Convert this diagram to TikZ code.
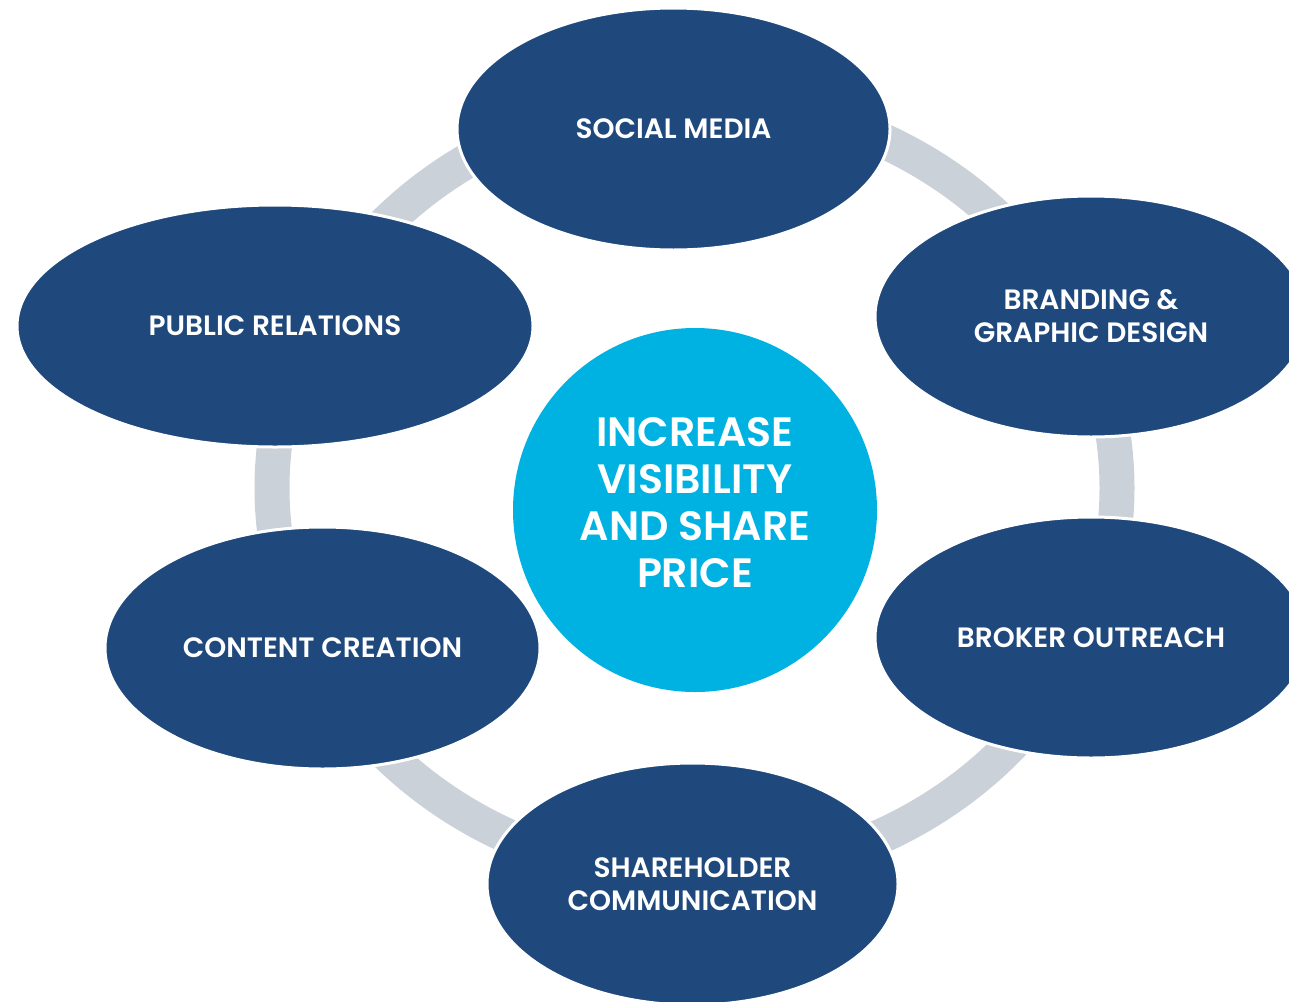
\documentclass[tikz,border=0pt]{standalone}
\usepackage{fontspec}
\setmainfont{Poppins}[BoldFont={Poppins SemiBold}]
\usetikzlibrary{shapes.geometric}
\definecolor{navy}{HTML}{1F497D}
\definecolor{sky}{HTML}{00B2E2}
\definecolor{ringgrey}{HTML}{CBD1D8}
\tikzset{
  bubble/.style={ellipse, fill=navy, draw=white, line width=1.5pt, inner sep=0pt,
    text=white, align=center, font=\bfseries\fontsize{14}{16.5}\selectfont},
  hub/.style={circle, fill=sky, inner sep=0pt, minimum size=182pt},
  hubtext/.style={text=white, align=center, font=\bfseries\fontsize{20.5}{23.5}\selectfont},
}
\begin{document}
\begin{tikzpicture}[x=0.5pt,y=-0.5pt]
\clip (0,0) rectangle (1289,1001);
\draw[ringgrey, line width=17.5pt] (694.5,488) ellipse [x radius=211.25pt, y radius=194pt];
\node[bubble, minimum width=216.5pt, minimum height=121pt] (social) at (673.5,129) {SOCIAL MEDIA};
\node[bubble, minimum width=216pt, minimum height=120.5pt] (brand) at (1091,316.5) {BRANDING \&\\GRAPHIC DESIGN};
\node[bubble, minimum width=216pt, minimum height=120.5pt] (broker) at (1091,637.5) {BROKER OUTREACH};
\node[bubble, minimum width=205.5pt, minimum height=121pt] (share) at (692.5,884) {SHAREHOLDER\\COMMUNICATION};
\node[bubble, minimum width=217.5pt, minimum height=121pt] (content) at (322.5,648) {CONTENT CREATION};
\node[bubble, minimum width=258pt, minimum height=121pt] (pr) at (275,326) {PUBLIC RELATIONS};
\node[hub] (goal) at (695,510) {};
\node[hubtext] (goaltext) at (695,503) {INCREASE\\VISIBILITY\\AND SHARE\\PRICE};
\end{tikzpicture}
\end{document}
